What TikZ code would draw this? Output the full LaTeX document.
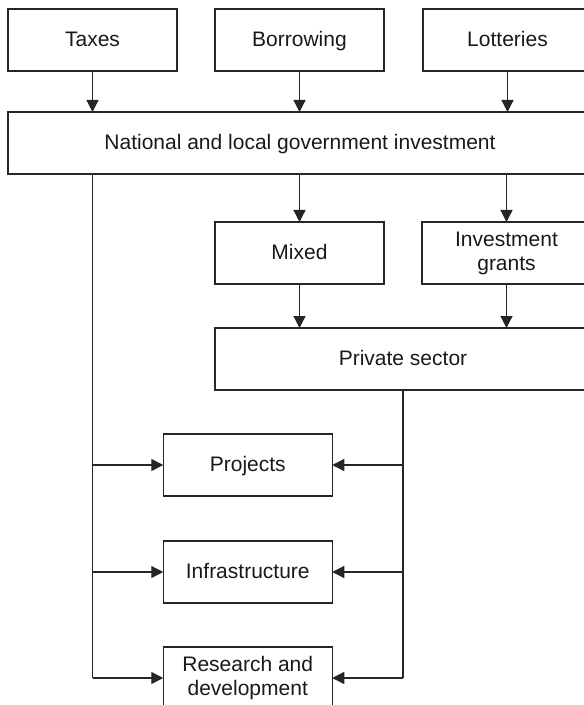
\documentclass[tikz,border=0pt]{standalone}
\usepackage{fontspec}
\setmainfont{Liberation Sans}
\usetikzlibrary{arrows.meta, positioning, calc}

\begin{document}
\begin{tikzpicture}[
  node distance=22pt and 19pt,
  box/.style={rectangle, draw=black!85, line width=0.65pt, text=black!90,
              minimum width=84.5pt, minimum height=31pt, inner sep=2pt,
              outer sep=0pt, align=center, font=\fontsize{10.5}{12}\selectfont},
  single/.style={box, text height=1.6ex, text depth=0.45ex},
  wide/.style={single, minimum width=292pt},
  arr/.style={-{Triangle[length=6pt, width=6pt]}, draw=black!85, line width=0.65pt},
  wire/.style={draw=black!85, line width=0.65pt}
]
\useasboundingbox (0,0) rectangle (291.5pt,-352.5pt);

% Sources
\node[single, anchor=north west] (taxes) at (4pt,-4.5pt) {Taxes};
\node[single, right=19pt of taxes] (borrow) {Borrowing};
\node[single, right=19.5pt of borrow] (lotto) {Lotteries};
\node[wide, below right=20.5pt and 0pt of taxes.south west] (gov) {National and local government investment};

\draw[arr] (taxes) -- (taxes |- gov.north);
\draw[arr] (borrow) -- (borrow |- gov.north);
\draw[arr] (lotto) -- (lotto |- gov.north);

% Channels
\coordinate (gb) at (borrow |- gov.south);
\node[single, below=24pt of gb] (mixed) {Mixed};
\node[box, right=19pt of mixed] (grants) {Investment\\grants};
\node[single, minimum width=188pt, below right=22pt and 0pt of mixed.south west] (private) {Private sector};

\draw[arr] (gov.south -| mixed) -- (mixed);
\draw[arr] (gov.south -| grants) -- (grants);
\draw[arr] (mixed) -- (mixed |- private.north);
\draw[arr] (grants) -- (grants |- private.north);

% Uses
\coordinate (mid) at ($(taxes.center)!0.5!(private.center)$);
\coordinate (split) at (mid |- private.south);
\node[single, below=22pt of split] (projects) {Projects};
\node[single, below=22.5pt of projects] (infra) {Infrastructure};
\node[box, below=22pt of infra] (rd) {Research and\\development};

\coordinate (left) at (gov.south -| taxes);
\draw[wire] (left) |- (left |- rd.west);
\draw[arr] (left |- projects.west) -- (projects.west);
\draw[arr] (left |- infra.west) -- (infra.west);
\draw[arr] (left |- rd.west) -- (rd.west);

\draw[wire] (private.south) -- (private.south |- rd.east);
\draw[arr] (private.south |- projects.east) -- (projects.east);
\draw[arr] (private.south |- infra.east) -- (infra.east);
\draw[arr] (private.south |- rd.east) -- (rd.east);

\end{tikzpicture}
\end{document}
